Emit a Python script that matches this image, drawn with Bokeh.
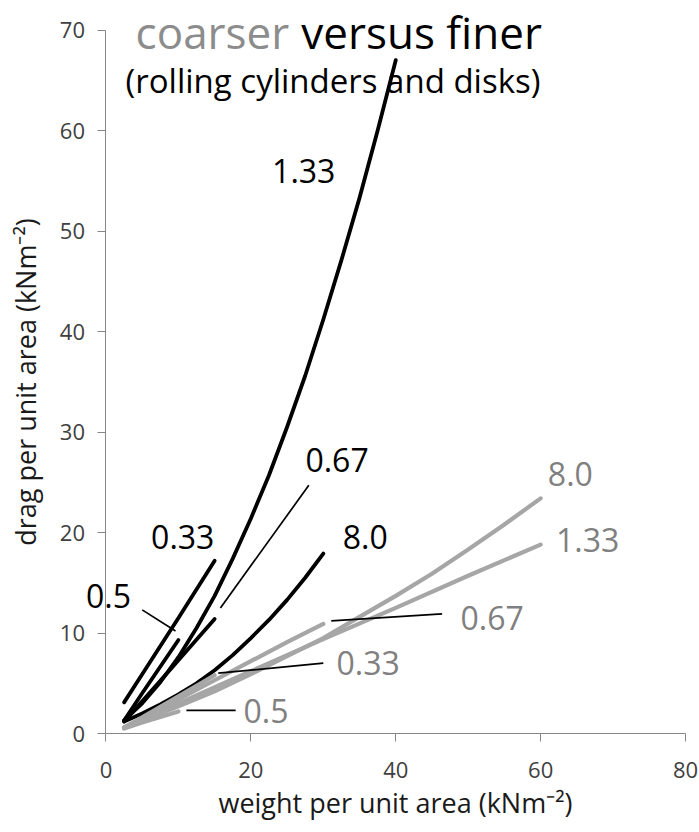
from bokeh.plotting import figure
from bokeh.models import Range1d, Label, FixedTicker
from bokeh.embed import file_html
from bokeh.resources import INLINE

FONT = "Open Sans"
BLACK = "#000000"
GREY_LINE = "#a6a6a6"
GREY_TEXT = "#808080"

# ---- finer sediment (black curves): weight vs drag per unit area ----
fine_w_133 = [2.5, 5, 7.5, 10, 12.5, 15, 17.5, 20, 22.5, 25, 27.5, 30, 32.5, 35, 37.5, 40]
fine_d_133 = [1.3, 3.0, 5.1, 7.6, 10.5, 13.7, 17.4, 21.4, 25.7, 30.5, 35.6, 41.2, 47.1, 53.3, 60.0, 67.0]
fine_w_033 = [2.5, 5, 10, 15]
fine_d_033 = [3.1, 5.9, 11.5, 17.2]
fine_w_050 = [2.5, 5, 10]
fine_d_050 = [1.3, 4.0, 9.3]
fine_w_067 = [2.5, 5, 10, 15]
fine_d_067 = [1.2, 3.2, 7.3, 11.4]
fine_w_800 = [2.5, 5, 7.5, 10, 12.5, 15, 17.5, 20, 22.5, 25, 27.5, 30]
fine_d_800 = [1.2, 2.0, 2.9, 3.9, 5.0, 6.3, 7.8, 9.5, 11.3, 13.3, 15.5, 17.9]

# ---- coarser sediment (grey curves) ----
coarse_w_050 = [2.5, 5, 10]
coarse_d_050 = [0.5, 1.1, 2.2]
coarse_w_033 = [2.5, 5, 10, 15]
coarse_d_033 = [0.6, 1.6, 3.7, 5.8]
coarse_w_067 = [2.5, 5, 10, 15, 20, 25, 30]
coarse_d_067 = [0.6, 1.5, 3.4, 5.3, 7.2, 9.1, 10.9]
coarse_w_133 = [2.5, 5, 10, 20, 30, 40, 50, 60]
coarse_d_133 = [0.6, 1.4, 3.0, 6.2, 9.4, 12.5, 15.7, 18.8]
coarse_w_800 = [2.5, 5, 10, 15, 20, 25, 30, 35, 40, 45, 50, 55, 60]
coarse_d_800 = [0.6, 1.3, 2.7, 4.2, 5.9, 7.7, 9.5, 11.6, 13.7, 15.9, 18.3, 20.8, 23.4]

# ---- curve labels (text, weight, drag) ----
fine_label_text = ["1.33", "0.67", "0.33", "8.0", "0.5"]
fine_label_w = [27.3, 31.9, 10.6, 35.8, 0.35]
fine_label_d = [56.0, 27.2, 19.6, 19.6, 13.7]

coarse_label_text = ["8.0", "1.33", "0.67", "0.33", "0.5"]
coarse_label_w = [64.1, 66.5, 53.3, 36.2, 22.1]
coarse_label_d = [25.8, 19.3, 11.5, 7.0, 2.2]

# ---- leader lines joining labels to curve ends ----
leader_w0 = [5.0, 15.8, 11.1, 15.5, 31.1]
leader_d0 = [12.3, 12.5, 2.3, 6.0, 11.2]
leader_w1 = [9.6, 28.0, 17.9, 30.0, 46.4]
leader_d1 = [10.2, 24.7, 2.3, 7.0, 11.9]

x_ticks = [0, 20, 40, 60, 80]
y_ticks = [0, 10, 20, 30, 40, 50, 60, 70]

# The frame fills the whole canvas; both axes are pinned at zero and bounded
# to their tick span, so nothing drawn around them gets clipped.
p = figure(width=699, height=832, output_backend="svg", toolbar_location=None,
           x_range=Range1d(-14.56, 81.93), y_range=Range1d(-9.85, 72.94),
           min_border=0)
p.outline_line_color = None
p.grid.visible = False
p.background_fill_color = "white"
p.border_fill_color = "white"

for ax in (p.xaxis[0], p.yaxis[0]):
    ax.fixed_location = 0
    ax.axis_line_color = "#868686"
    ax.major_tick_line_color = "#868686"
    ax.minor_tick_line_color = None
    ax.major_tick_in = 0
    ax.major_tick_out = 8
    ax.major_label_text_font = FONT
    ax.major_label_text_font_size = "22px"
    ax.major_label_text_color = "#404040"
    ax.axis_label_text_font = FONT
    ax.axis_label_text_font_size = "27px"
    ax.axis_label_text_font_style = "normal"
    ax.axis_label_text_color = "#1a1a1a"

p.xaxis.ticker = FixedTicker(ticks=x_ticks)
p.yaxis.ticker = FixedTicker(ticks=y_ticks)
p.xaxis.bounds = (0, 80)
p.yaxis.bounds = (0, 70)
p.xaxis.axis_label = "weight per unit area (kNm⁻²)"
p.yaxis.axis_label = "drag per unit area (kNm⁻²)"
p.xaxis.major_label_standoff = 20
p.yaxis.major_label_standoff = 13
p.xaxis.axis_label_standoff = 3
p.yaxis.axis_label_standoff = 12

# finer curves
for w, d in [(fine_w_133, fine_d_133), (fine_w_033, fine_d_033),
             (fine_w_050, fine_d_050), (fine_w_067, fine_d_067),
             (fine_w_800, fine_d_800)]:
    p.line(w, d, line_color=BLACK, line_width=3.8, line_cap="round", line_join="round")

# coarser curves
for w, d in [(coarse_w_050, coarse_d_050), (coarse_w_033, coarse_d_033),
             (coarse_w_067, coarse_d_067), (coarse_w_133, coarse_d_133),
             (coarse_w_800, coarse_d_800)]:
    p.line(w, d, line_color=GREY_LINE, line_width=4.2, line_cap="round", line_join="round")

# leaders
p.segment(x0=leader_w0, y0=leader_d0, x1=leader_w1, y1=leader_d1,
          line_color=BLACK, line_width=1.7)

for t, w, d in zip(fine_label_text, fine_label_w, fine_label_d):
    p.add_layout(Label(x=w, y=d, text=t, text_font=FONT, text_font_size="32px",
                       text_color=BLACK, text_align="center", text_baseline="middle"))
for t, w, d in zip(coarse_label_text, coarse_label_w, coarse_label_d):
    p.add_layout(Label(x=w, y=d, text=t, text_font=FONT, text_font_size="32px",
                       text_color=GREY_TEXT, text_align="center", text_baseline="middle"))

# heading: two-tone title and subtitle
p.add_layout(Label(x=25.3, y=69.8, text="coarser", text_font=FONT,
                   text_font_size="44px", text_color="#8c8c8c",
                   text_align="right", text_baseline="middle"))
p.add_layout(Label(x=25.3, y=69.8, x_offset=12, text="versus finer", text_font=FONT,
                   text_font_size="44px", text_color=BLACK,
                   text_align="left", text_baseline="middle"))
p.add_layout(Label(x=2.7, y=65.0, text="(rolling cylinders and disks)", text_font=FONT,
                   text_font_size="33px", text_color=BLACK,
                   text_align="left", text_baseline="middle"))

open("out.html", "w").write(file_html(p, INLINE))
